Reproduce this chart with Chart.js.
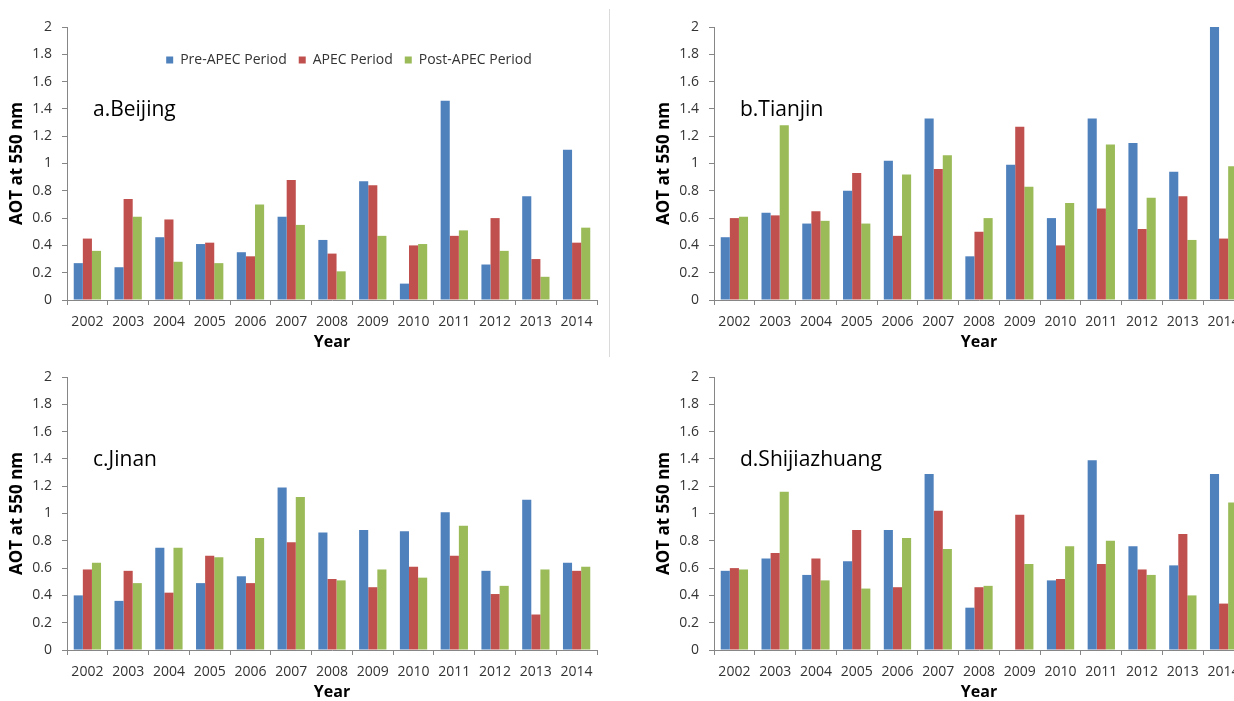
<!DOCTYPE html>
<html>
<head>
<meta charset="utf-8">
<title>AOT at 550 nm</title>
<script src="https://cdn.jsdelivr.net/npm/chart.js@4"></script>
<style>
  html, body { margin: 0; padding: 0; background: #fff; overflow: hidden; }
  body { width: 1234px; height: 701px; position: relative; }
  canvas { position: absolute; }
  #divider { position: absolute; left: 609px; top: 9px; width: 1px; height: 348px; background: #dadada; }
</style>
</head>
<body>
<canvas id="chartA" width="615" height="350" style="left:0;top:0"></canvas>
<canvas id="chartB" width="615" height="350" style="left:647px;top:0"></canvas>
<canvas id="chartC" width="615" height="350" style="left:0;top:350px"></canvas>
<canvas id="chartD" width="615" height="350" style="left:647px;top:350px"></canvas>
<div id="divider"></div>
<script>
// categories and series
var years = ['2002', '2003', '2004', '2005', '2006', '2007', '2008', '2009', '2010', '2011', '2012', '2013', '2014'];
var seriesNames = ['Pre-APEC Period', 'APEC Period', 'Post-APEC Period'];

var beijingPre  = [0.27, 0.24, 0.46, 0.41, 0.35, 0.61, 0.44, 0.87, 0.12, 1.46, 0.26, 0.76, 1.10];
var beijingApec = [0.45, 0.74, 0.59, 0.42, 0.32, 0.88, 0.34, 0.84, 0.40, 0.47, 0.60, 0.30, 0.42];
var beijingPost = [0.36, 0.61, 0.28, 0.27, 0.70, 0.55, 0.21, 0.47, 0.41, 0.51, 0.36, 0.17, 0.53];

var tianjinPre  = [0.46, 0.64, 0.56, 0.80, 1.02, 1.33, 0.32, 0.99, 0.60, 1.33, 1.15, 0.94, 2.00];
var tianjinApec = [0.60, 0.62, 0.65, 0.93, 0.47, 0.96, 0.50, 1.27, 0.40, 0.67, 0.52, 0.76, 0.45];
var tianjinPost = [0.61, 1.28, 0.58, 0.56, 0.92, 1.06, 0.60, 0.83, 0.71, 1.14, 0.75, 0.44, 0.98];

var jinanPre  = [0.40, 0.36, 0.75, 0.49, 0.54, 1.19, 0.86, 0.88, 0.87, 1.01, 0.58, 1.10, 0.64];
var jinanApec = [0.59, 0.58, 0.42, 0.69, 0.49, 0.79, 0.52, 0.46, 0.61, 0.69, 0.41, 0.26, 0.58];
var jinanPost = [0.64, 0.49, 0.75, 0.68, 0.82, 1.12, 0.51, 0.59, 0.53, 0.91, 0.47, 0.59, 0.61];

var shijiazhuangPre  = [0.58, 0.67, 0.55, 0.65, 0.88, 1.29, 0.31, 0, 0.51, 1.39, 0.76, 0.62, 1.29];
var shijiazhuangApec = [0.60, 0.71, 0.67, 0.88, 0.46, 1.02, 0.46, 0.99, 0.52, 0.63, 0.59, 0.85, 0.34];
var shijiazhuangPost = [0.59, 1.16, 0.51, 0.45, 0.82, 0.74, 0.47, 0.63, 0.76, 0.80, 0.55, 0.40, 1.08];

var barColors = ['#4f81bd', '#c0504d', '#9bbb59'];
var axisColor = '#868686';
var textColor = '#333333';

Chart.defaults.font.family = '"Open Sans", sans-serif';

// draws the "a.Beijing" style label inside the plot
var panelLabel = {
    id: 'panelLabel',
    afterDraw: function(chart, args, opts) {
        var ctx = chart.ctx, area = chart.chartArea;
        ctx.save();
        ctx.font = '21px "Open Sans", sans-serif';
        ctx.fillStyle = '#000';
        ctx.textBaseline = 'middle';
        ctx.fillText(opts.text, area.left + 26, area.top + 83);
        ctx.restore();
    }
};

// moves the legend down into the plot area (it only reserves 1px of layout)
var shiftLegend = {
    id: 'shiftLegend',
    afterLayout: function(chart, args, opts) {
        var lg = chart.legend;
        if (lg && lg.options.display) {
            lg.left += opts.dx; lg.right += opts.dx;
            lg.top += opts.dy;
            lg.height = 40;
            lg.bottom = lg.top + lg.height;
        }
    }
};

function makeChart(id, label, pre, apec, post, showLegend) {
    var ctx = document.getElementById(id).getContext('2d');
    return new Chart(ctx, {
        type: 'bar',
        data: {
            labels: years,
            datasets: [pre, apec, post].map(function(vals, i) {
                return {
                    label: seriesNames[i],
                    data: vals,
                    backgroundColor: barColors[i],
                    borderWidth: 0,
                    categoryPercentage: 0.67,
                    barPercentage: 1
                };
            })
        },
        options: {
            responsive: false,
            animation: false,
            devicePixelRatio: 1,
            layout: { padding: { top: showLegend ? 26 : 27, right: 18, bottom: 0, left: 0 } },
            plugins: {
                tooltip: { enabled: false },
                panelLabel: { text: label },
                shiftLegend: { dx: 17, dy: 15 },
                legend: {
                    display: showLegend,
                    position: 'top',
                    fullSize: false,
                    align: 'center',
                    maxHeight: 1,
                    labels: {
                        boxWidth: 7,
                        boxHeight: 7,
                        padding: 12,
                        color: textColor,
                        font: { size: 14 }
                    }
                }
            },
            scales: {
                x: {
                    grid: { display: true, drawOnChartArea: false, drawTicks: true, tickLength: 5, color: axisColor, offset: true },
                    border: { color: axisColor, width: 1 },
                    ticks: { color: textColor, font: { size: 14 }, padding: 9, maxRotation: 0, autoSkip: false },
                    title: { display: true, text: 'Year', color: '#000', font: { size: 16, weight: 'bold', lineHeight: 1 }, padding: { top: 4, bottom: 0 } },
                    afterFit: function(scale) { scale.height = 50; }
                },
                y: {
                    min: 0,
                    max: 2,
                    grid: { display: true, drawOnChartArea: false, drawTicks: true, tickLength: 5, color: axisColor },
                    border: { color: axisColor, width: 1 },
                    ticks: {
                        stepSize: 0.2,
                        color: textColor,
                        font: { size: 14 },
                        padding: 10,
                        callback: function(v) { return String(Number(v.toFixed(1))); }
                    },
                    title: { display: true, text: 'AOT at 550 nm', color: '#000', font: { size: 17, weight: 'bold' }, padding: { top: 7, bottom: 0 } },
                    afterFit: function(scale) { scale.width = 67; }
                }
            }
        },
        plugins: [panelLabel, shiftLegend]
    });
}

document.addEventListener('DOMContentLoaded', function() {
    makeChart('chartA', 'a.Beijing', beijingPre, beijingApec, beijingPost, true);
    makeChart('chartB', 'b.Tianjin', tianjinPre, tianjinApec, tianjinPost, false);
    makeChart('chartC', 'c.Jinan', jinanPre, jinanApec, jinanPost, false);
    makeChart('chartD', 'd.Shijiazhuang', shijiazhuangPre, shijiazhuangApec, shijiazhuangPost, false);
});
</script>
</body>
</html>
